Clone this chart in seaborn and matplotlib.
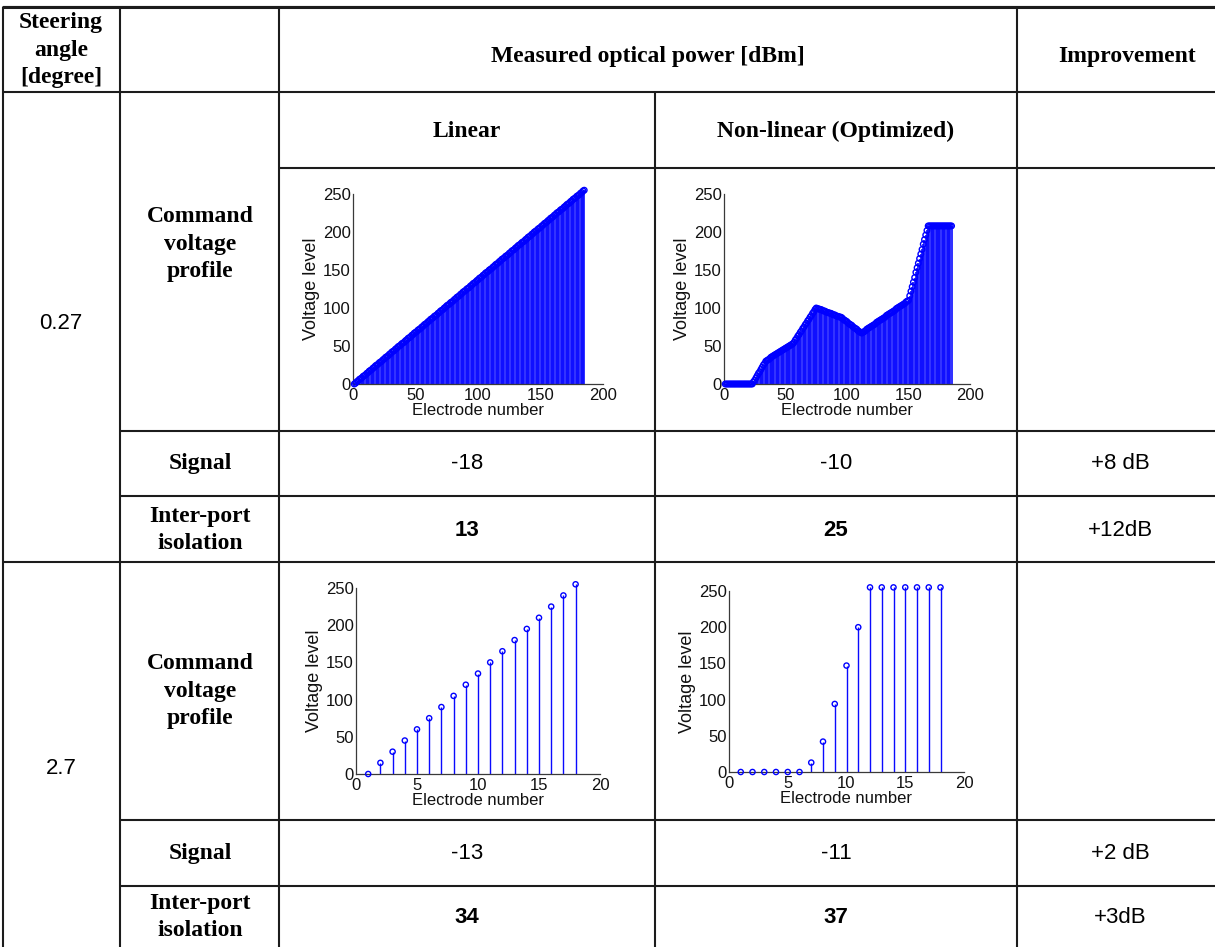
import numpy as np
import pandas as pd
import seaborn as sns
import matplotlib
matplotlib.use("Agg")
import matplotlib.pyplot as plt

# ---- command voltage profiles ----
# 0.27 degree, linear ramp over 185 electrodes
linear_fine = [
    0, 1, 3, 4, 6, 7, 8, 10, 11, 12,
    14, 15, 17, 18, 19, 21, 22, 24, 25, 26,
    28, 29, 30, 32, 33, 35, 36, 37, 39, 40,
    42, 43, 44, 46, 47, 49, 50, 51, 53, 54,
    55, 57, 58, 60, 61, 62, 64, 65, 67, 68,
    69, 71, 72, 73, 75, 76, 78, 79, 80, 82,
    83, 85, 86, 87, 89, 90, 91, 93, 94, 96,
    97, 98, 100, 101, 103, 104, 105, 107, 108, 109,
    111, 112, 114, 115, 116, 118, 119, 121, 122, 123,
    125, 126, 127, 129, 130, 132, 133, 134, 136, 137,
    139, 140, 141, 143, 144, 146, 147, 148, 150, 151,
    152, 154, 155, 157, 158, 159, 161, 162, 164, 165,
    166, 168, 169, 170, 172, 173, 175, 176, 177, 179,
    180, 182, 183, 184, 186, 187, 188, 190, 191, 193,
    194, 195, 197, 198, 200, 201, 202, 204, 205, 206,
    208, 209, 211, 212, 213, 215, 216, 218, 219, 220,
    222, 223, 225, 226, 227, 229, 230, 231, 233, 234,
    236, 237, 238, 240, 241, 243, 244, 245, 247, 248,
    249, 251, 252, 254, 255,
]

# 0.27 degree, optimized (non-linear) profile
optimized_fine = [
    0, 0, 0, 0, 0, 0, 0, 0, 0, 0,
    0, 0, 0, 0, 0, 0, 0, 0, 0, 0,
    0, 0, 0, 3, 5, 8, 11, 14, 16, 19,
    22, 25, 27, 30, 31, 32, 33, 35, 36, 37,
    38, 39, 40, 41, 42, 43, 44, 45, 46, 47,
    48, 49, 50, 51, 52, 53, 55, 58, 60, 63,
    65, 68, 70, 73, 75, 78, 80, 83, 85, 88,
    90, 93, 95, 98, 100, 99, 99, 98, 98, 97,
    96, 96, 95, 94, 94, 93, 93, 92, 91, 91,
    90, 89, 89, 88, 88, 87, 85, 84, 83, 82,
    80, 79, 78, 77, 75, 74, 73, 72, 70, 69,
    68, 67, 68, 69, 70, 72, 73, 74, 75, 76,
    77, 78, 79, 81, 82, 83, 84, 85, 86, 87,
    88, 90, 91, 92, 93, 94, 95, 96, 97, 99,
    100, 101, 102, 103, 104, 105, 106, 108, 109, 110,
    116, 122, 128, 134, 140, 147, 153, 159, 165, 171,
    177, 184, 190, 196, 202, 208, 208, 208, 208, 208,
    208, 208, 208, 208, 208, 208, 208, 208, 208, 208,
    208, 208, 208, 208, 208,
]

# 2.7 degree, 18 electrodes
linear_coarse = [0, 15, 30, 45, 60, 75, 90, 105, 120, 135, 150, 165,
                 180, 195, 210, 225, 240, 255]
optimized_coarse = [0, 0, 0, 0, 0, 0, 13, 42, 94, 147, 200, 255,
                    255, 255, 255, 255, 255, 255]

# ---- table entries ----
angles = ["0.27", "2.7"]
signal_linear = ["-18", "-13"]
signal_optimized = ["-10", "-11"]
signal_gain = ["+8 dB", "+2 dB"]
isolation_linear = ["13", "34"]
isolation_optimized = ["25", "37"]
isolation_gain = ["+12dB", "+3dB"]

W, H = 1215, 947

sns.set_style("white")
plt.rcParams["font.family"] = ["Liberation Sans", "DejaVu Sans"]
plt.rcParams["text.color"] = "black"

fig = plt.figure(figsize=(W / 100, H / 100), dpi=100)
tab = fig.add_axes([0, 0, 1, 1])
tab.set_xlim(0, W)
tab.set_ylim(H, 0)
tab.axis("off")

LINE = dict(color="#1c1c1c", lw=1.5, solid_capstyle="butt")

# horizontal rules (y, x_start, x_end)
hrules = [(7, 3, W), (92, 3, W), (168, 279, W), (431, 120, W), (496, 120, W),
          (562, 3, W), (820, 120, W), (886, 120, W)]
for y, x0, x1 in hrules:
    tab.plot([x0, x1], [y, y], **LINE)
tab.plot([3, W], [7, 7], color="#1c1c1c", lw=2.2)

# vertical rules (x, y_start, y_end)
vrules = [(3, 7, H), (120, 7, H), (279, 7, H), (655, 92, H), (1017, 7, H)]
for x, y0, y1 in vrules:
    tab.plot([x, x], [y0, y1], **LINE)

serif_bold = dict(family="Liberation Serif", weight="bold", fontsize=17,
                  ha="center", va="center", linespacing=1.42, color="black")
sans = dict(family="Liberation Sans", fontsize=16, ha="center", va="center",
            color="black")

tab.text(61, 50, "Steering\nangle\n[degree]", **serif_bold)
tab.text(648, 56, "Measured optical power [dBm]", **serif_bold)
tab.text(1127, 56, "Improvement", **serif_bold)
tab.text(467, 131, "Linear", **serif_bold)
tab.text(836, 131, "Non-linear (Optimized)", **serif_bold)

profile_y = [244, 691]
signal_y = [463, 853]
iso_y = [530, 917]
angle_y = [323, 768]
for i in range(2):
    tab.text(61, angle_y[i], angles[i], **sans)
    tab.text(200, profile_y[i], "Command\nvoltage\nprofile", **serif_bold)
    tab.text(200, signal_y[i], "Signal", **serif_bold)
    tab.text(200, iso_y[i], "Inter-port\nisolation", **serif_bold)
    tab.text(467, signal_y[i], signal_linear[i], **sans)
    tab.text(836, signal_y[i], signal_optimized[i], **sans)
    tab.text(1120, signal_y[i], signal_gain[i], **sans)
    tab.text(467, iso_y[i], isolation_linear[i], weight="bold", **sans)
    tab.text(836, iso_y[i], isolation_optimized[i], weight="bold", **sans)
    tab.text(1120, iso_y[i], isolation_gain[i], **sans)


def px_rect(left, top, right, bottom):
    return [left / W, 1 - bottom / H, (right - left) / W, (bottom - top) / H]


def stem_panel(rect, values, xmax, xticks, stem_lw, marker_s):
    ax = fig.add_axes(px_rect(*rect))
    df = pd.DataFrame({"electrode": np.arange(1, len(values) + 1),
                       "level": values})
    ax.vlines(df["electrode"], 0, df["level"], color="#0a0aff", lw=stem_lw,
              clip_on=False, zorder=2)
    sns.scatterplot(data=df, x="electrode", y="level", ax=ax, marker="o",
                    s=marker_s, color="#0000ff", linewidth=1.0, clip_on=False,
                    legend=False, zorder=3)
    pts = ax.collections[-1]
    pts.set_facecolor("none")
    pts.set_edgecolor("#0000ff")
    ax.set_xlim(0, xmax)
    ax.set_ylim(0, 250)
    ax.set_xticks(xticks)
    ax.set_yticks([0, 50, 100, 150, 200, 250])
    ax.set_facecolor("none")
    for side in ["top", "right"]:
        ax.spines[side].set_visible(False)
    for side in ["left", "bottom"]:
        ax.spines[side].set_color("#3a3a3a")
        ax.spines[side].set_linewidth(0.9)
    ax.tick_params(direction="in", length=3, width=0.7, colors="#3a3a3a",
                   labelcolor="#111111", labelsize=12)
    ax.tick_params(axis="x", pad=3)
    ax.tick_params(axis="y", pad=1.5)
    ax.set_xlabel("Electrode number", fontsize=12, color="#111111",
                  labelpad=0)
    ax.set_ylabel("Voltage level", fontsize=13, color="#111111",
                  labelpad=2)
    return ax


stem_panel((353, 194, 603, 384), linear_fine, 200, [0, 50, 100, 150, 200],
           1.2, 16)
stem_panel((724, 194, 970, 384), optimized_fine, 200, [0, 50, 100, 150, 200],
           1.2, 16)
stem_panel((356, 588, 600, 774), linear_coarse, 20, [0, 5, 10, 15, 20],
           1.0, 14)
stem_panel((729, 591, 964, 772), optimized_coarse, 20, [0, 5, 10, 15, 20],
           1.0, 14)

fig.savefig("out.png", dpi=100, facecolor="white")
